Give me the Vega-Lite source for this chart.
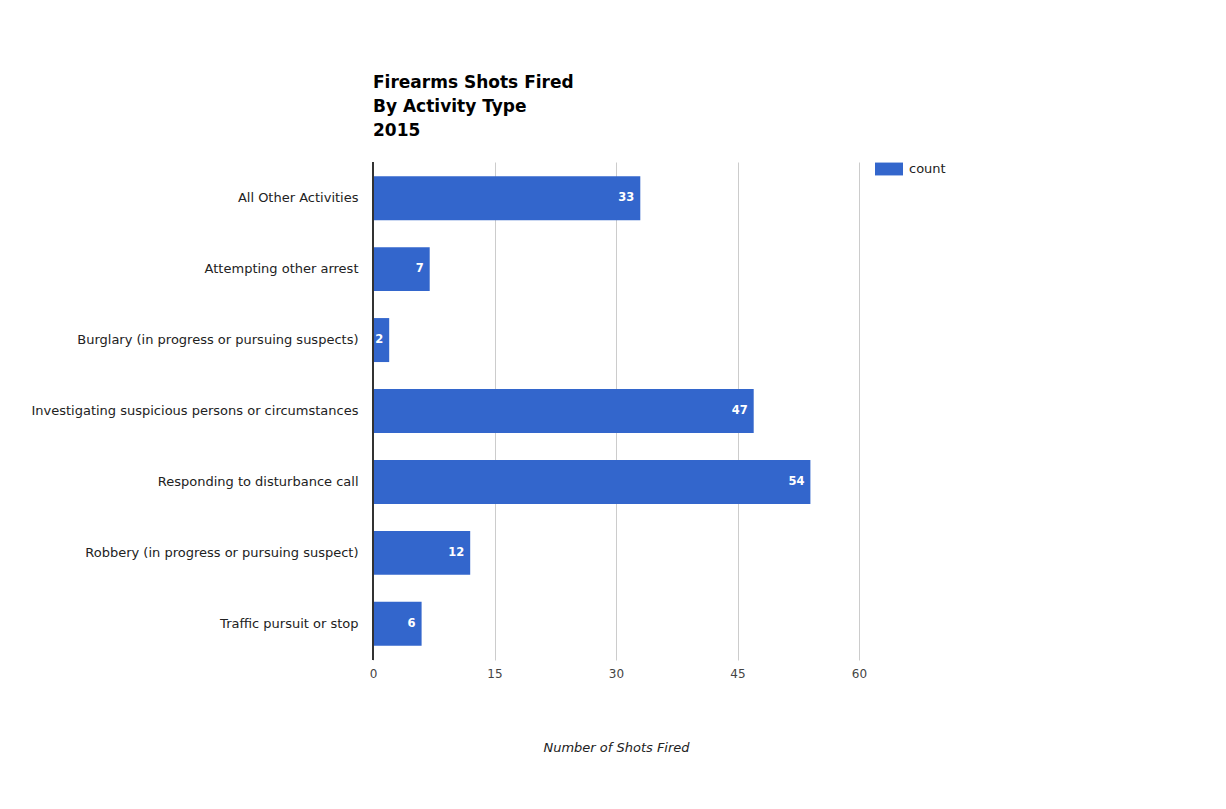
{
  "$schema": "https://vega.github.io/schema/vega-lite/v6.json",
  "autosize": "none",
  "width": 486,
  "height": 498,
  "padding": {"left": 373, "top": 162, "right": 367, "bottom": 149},
  "background": "white",
  "config": {
    "font": "DejaVu Sans",
    "view": {"stroke": null}
  },
  "title": {
    "text": ["Firearms Shots Fired", "By Activity Type", "2015"],
    "anchor": "start",
    "frame": "group",
    "fontSize": 17,
    "fontWeight": "bold",
    "color": "#000000",
    "lineHeight": 24,
    "offset": 15
  },
  "data": {
    "values": [
      {"activity": "All Other Activities", "count": 33},
      {"activity": "Attempting other arrest", "count": 7},
      {"activity": "Burglary (in progress or pursuing suspects)", "count": 2},
      {"activity": "Investigating suspicious persons or circumstances", "count": 47},
      {"activity": "Responding to disturbance call", "count": 54},
      {"activity": "Robbery (in progress or pursuing suspect)", "count": 12},
      {"activity": "Traffic pursuit or stop", "count": 6}
    ]
  },
  "encoding": {
    "y": {
      "field": "activity",
      "type": "nominal",
      "sort": null,
      "scale": {"paddingInner": 0.38, "paddingOuter": 0.2},
      "axis": {
        "title": null,
        "domain": false,
        "ticks": false,
        "labelPadding": 15,
        "labelFontSize": 13,
        "labelColor": "#222222",
        "labelLimit": 400
      }
    }
  },
  "layer": [
    {
      "mark": {"type": "bar", "color": "#3366cc"},
      "encoding": {
        "x": {
          "field": "count",
          "type": "quantitative",
          "scale": {"domain": [0, 60], "nice": false},
          "axis": {
            "title": "Number of Shots Fired",
            "titleFontStyle": "italic",
            "titleFontWeight": "normal",
            "titleFontSize": 13,
            "titleColor": "#222222",
            "titlePadding": 62,
            "values": [0, 15, 30, 45, 60],
            "domain": false,
            "ticks": false,
            "grid": true,
            "gridColor": "#cccccc",
            "labelPadding": 8,
            "labelFlush": false,
            "labelFontSize": 12,
            "labelColor": "#444444"
          }
        },
        "color": {
          "datum": "count",
          "type": "nominal",
          "scale": {"range": ["#3366cc"]},
          "legend": {
            "title": null,
            "orient": "none",
            "legendX": 502,
            "legendY": -7,
            "symbolType": "M-1,-0.46H1V0.46H-1Z",
            "symbolSize": 784,
            "symbolStrokeWidth": 0,
            "labelFontSize": 13,
            "labelColor": "#222222",
            "labelOffset": 6
          }
        }
      }
    },
    {
      "mark": {
        "type": "text",
        "align": "right",
        "baseline": "middle",
        "dx": -6,
        "color": "white",
        "fontWeight": "bold",
        "fontSize": 11.5
      },
      "encoding": {
        "x": {"field": "count", "type": "quantitative"},
        "text": {"field": "count", "type": "quantitative"}
      }
    },
    {
      "mark": {"type": "rule", "color": "#333333", "strokeWidth": 1},
      "encoding": {"x": {"datum": 0, "type": "quantitative"}, "y": {"value": 0}, "y2": {"value": 498}}
    }
  ]
}
